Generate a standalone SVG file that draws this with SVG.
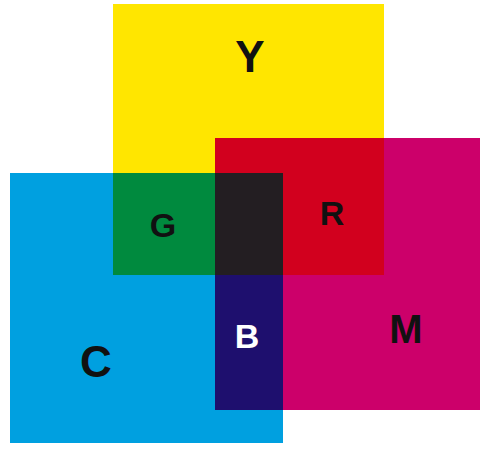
<svg xmlns="http://www.w3.org/2000/svg" width="480" height="449" viewBox="0 0 480 449">
<style>
text{font-family:"Liberation Sans",Arial,sans-serif;font-weight:bold;text-anchor:middle;fill:#111}
</style>
<rect width="480" height="449" fill="#fff"/>
<g id="yellow"><rect x="113" y="4" width="271" height="271" fill="#FFE600"/></g>
<g id="magenta"><rect x="215" y="138" width="265" height="272" fill="#CC006A"/></g>
<g id="cyan"><rect x="10" y="173" width="273" height="270" fill="#00A0E0"/></g>
<g id="red"><rect x="215" y="138" width="169" height="137" fill="#D2001E"/></g>
<g id="green"><rect x="113" y="173" width="102" height="102" fill="#008A3E"/></g>
<g id="blue"><rect x="215" y="173" width="68" height="237" fill="#1E0F6E"/></g>
<g id="black"><rect x="215" y="173" width="68" height="102" fill="#231E22"/></g>
<g id="labels">
<text x="250" y="72" font-size="44">Y</text>
<text x="163" y="237" font-size="34">G</text>
<text x="332" y="225" font-size="34">R</text>
<text x="247" y="348" font-size="34" style="fill:#fff">B</text>
<text x="406" y="343" font-size="40">M</text>
<text x="96" y="377" font-size="44">C</text>
</g>
</svg>
